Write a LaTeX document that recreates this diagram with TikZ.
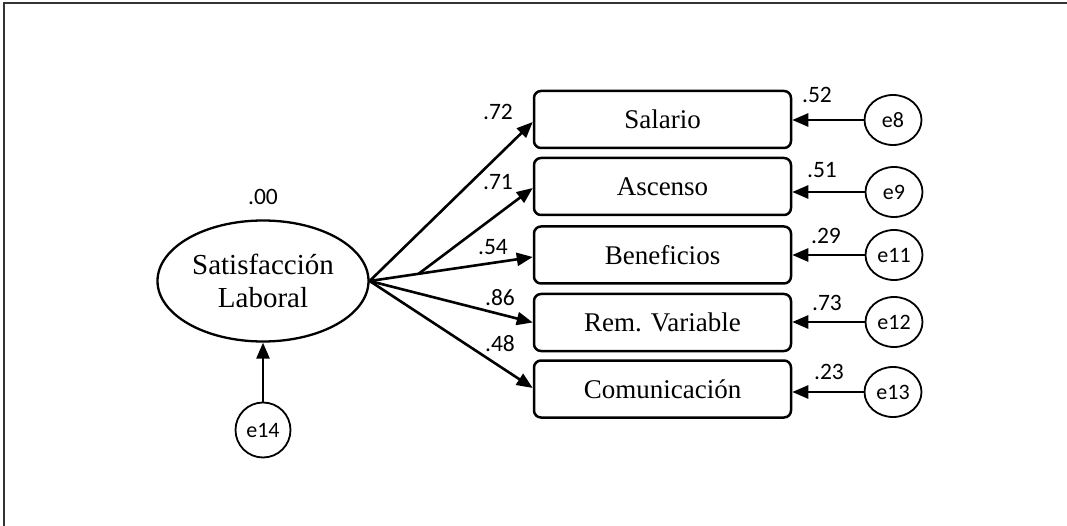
\documentclass[tikz,border=0pt]{standalone}
\usepackage{fontspec}
\setmainfont{Liberation Serif}
\newfontfamily\numfont{Carlito}
\usetikzlibrary{shapes.geometric,arrows.meta}
\begin{document}
\begin{tikzpicture}[x=1pt,y=-1pt,
  conn/.style={line width=2.6pt,-{Triangle[length=16pt,width=13pt]}},
  obs/.style={draw,line width=2.5pt,rounded corners=7pt,minimum width=257pt,minimum height=57pt,inner sep=0pt,font=\fontsize{27}{31}\selectfont},
  err/.style={draw,ellipse,line width=1.8pt,minimum width=57pt,minimum height=50pt,inner sep=0pt,font=\numfont\fontsize{22}{25}\selectfont},
  lab/.style={font=\numfont\fontsize{23.5}{27}\selectfont,inner sep=0pt}]
\useasboundingbox (0,0) rectangle (1067,526);
\draw[line width=2.2pt,color=black!80] (4,526) -- (4,3) -- (1067,3);
% latent
\node[draw,ellipse,line width=2.3pt,minimum width=211pt,minimum height=121pt,inner sep=0pt,align=center,font=\fontsize{29}{33}\selectfont] (sl) at (263,281) {Satisfacción\\Laboral};
\node[lab] (l00) at (263,197) {.00};
\node[err,minimum width=55pt,minimum height=55pt] (e14) at (263,430) {e14};
\draw[conn] (e14) -- (sl);
% observed
\node[obs] (sal) at (662.5,119.5) {Salario};
\node[obs] (asc) at (662.5,186.5) {Ascenso};
\node[obs] (ben) at (662.5,255) {Beneficios};
\node[obs] (rem) at (662.5,322.5) {Rem. Variable};
\node[obs] (com) at (662.5,389) {Comunicación};
% errors
\node[err] (e8) at (893,120) {e8};
\node[err] (e9) at (894,192) {e9};
\node[err] (e11) at (894,255) {e11};
\node[err] (e12) at (894,322) {e12};
\node[err] (e13) at (893,392) {e13};
% loadings
\draw[conn] (sl.east) -- ([yshift=-2.5pt]sal.west);
\draw[conn] (sl.east) -- ([yshift=-2pt]ben.west) coordinate[pos=0.3] (br);
\draw[conn] (br) -- ([yshift=-1.5pt]asc.west);
\draw[conn] (sl.east) -- (rem.west);
\draw[conn] (sl.east) -- ([yshift=1pt]com.west);
\node[lab] (l72) at (498,112) {.72};
\node[lab] (l71) at (498,182) {.71};
\node[lab] (l54) at (493,247) {.54};
\node[lab] (l86) at (500,298) {.86};
\node[lab] (l48) at (500,344) {.48};
% error arrows
\draw[conn] (e8.west) -- (sal.east |- e8.west);
\draw[conn] (e9.west) -- (asc.east |- e9.west);
\draw[conn] (e11.west) -- (ben.east |- e11.west);
\draw[conn] (e12.west) -- (rem.east |- e12.west);
\draw[conn] (e13.west) -- (com.east |- e13.west);
\node[lab] (l52) at (817,95) {.52};
\node[lab] (l51) at (822,170) {.51};
\node[lab] (l29) at (826,236) {.29};
\node[lab] (l73) at (827,303) {.73};
\node[lab] (l23) at (829,372) {.23};
\end{tikzpicture}
\end{document}
